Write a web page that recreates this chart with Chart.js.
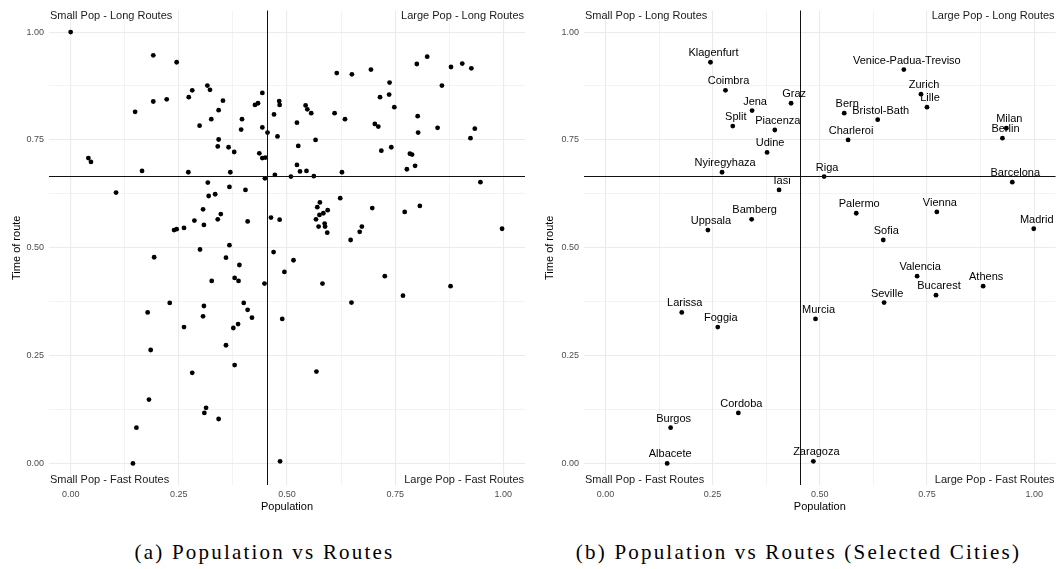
<!DOCTYPE html>
<html>
<head>
<meta charset="utf-8">
<script src="https://cdn.jsdelivr.net/npm/chart.js@4.4.1/dist/chart.umd.min.js"></script>
<style>
  html, body { margin: 0; padding: 0; background: #fff; }
  #wrap { position: relative; width: 1058px; height: 569px; overflow: hidden; }
  .panel { position: absolute; top: 0; width: 529px; height: 520px; }
  .cap { position: absolute; top: 542px; width: 529px; text-align: center;
         font-family: "Liberation Serif", "Times New Roman", serif; font-size: 21px;
         line-height: 20px; letter-spacing: 2.2px; color: #000; }
</style>
</head>
<body>
<div id="wrap">
  <div class="panel" style="left:0"><canvas id="allChart" width="529" height="520"></canvas></div>
  <div class="panel" style="left:529px"><canvas id="cityChart" width="529" height="520"></canvas></div>
  <div class="cap" style="left:0">(a) Population vs Routes</div>
  <div class="cap" style="left:534px">(b) Population vs Routes (Selected Cities)</div>
</div>
<script>
// --- data: all cities (normalised population / route time) ---
const allPop = [
  0.000, 0.191, 0.245, 0.316, 0.322, 0.281, 0.273, 0.222, 0.191, 0.352,
  0.342, 0.149, 0.443, 0.426, 0.433, 0.396, 0.325, 0.298, 0.394, 0.443,
  0.455, 0.342, 0.340, 0.365, 0.378, 0.041, 0.047, 0.436, 0.443, 0.450,
  0.165, 0.272, 0.369, 0.449, 0.105, 0.317, 0.367, 0.404, 0.334, 0.319,
  0.306, 0.347, 0.340, 0.286, 0.308, 0.409, 0.262, 0.245, 0.239, 0.367,
  0.299, 0.193, 0.359, 0.390, 0.326, 0.379, 0.388, 0.448, 0.229, 0.400,
  0.178, 0.308, 0.409, 0.306, 0.419, 0.262, 0.387, 0.376, 0.185, 0.359,
  0.379, 0.281, 0.181, 0.313, 0.309, 0.342, 0.152, 0.144, 0.482, 0.483,
  0.470, 0.478, 0.472, 0.509, 0.523, 0.526, 0.523, 0.530, 0.545, 0.562,
  0.543, 0.547, 0.556, 0.566, 0.615, 0.650, 0.610, 0.634, 0.627, 0.623,
  0.694, 0.737, 0.715, 0.736, 0.748, 0.703, 0.711, 0.718, 0.741, 0.697,
  0.800, 0.824, 0.858, 0.879, 0.905, 0.926, 0.802, 0.803, 0.848, 0.934,
  0.924, 0.784, 0.789, 0.796, 0.777, 0.947, 0.772, 0.807, 0.576, 0.570,
  0.594, 0.584, 0.575, 0.567, 0.587, 0.588, 0.573, 0.593, 0.647, 0.668,
  0.673, 0.463, 0.483, 0.997, 0.469, 0.515, 0.494, 0.582, 0.726, 0.768,
  0.878, 0.649, 0.489, 0.568, 0.484
];
const allTime = [
  1.000, 0.946, 0.930, 0.876, 0.866, 0.865, 0.849, 0.844, 0.839, 0.841,
  0.819, 0.815, 0.859, 0.831, 0.835, 0.798, 0.798, 0.783, 0.774, 0.779,
  0.767, 0.751, 0.735, 0.733, 0.722, 0.708, 0.699, 0.719, 0.708, 0.709,
  0.678, 0.675, 0.675, 0.661, 0.628, 0.651, 0.641, 0.634, 0.624, 0.620,
  0.589, 0.578, 0.566, 0.563, 0.553, 0.561, 0.546, 0.543, 0.541, 0.506,
  0.496, 0.478, 0.477, 0.460, 0.423, 0.430, 0.423, 0.417, 0.372, 0.372,
  0.350, 0.365, 0.356, 0.341, 0.338, 0.316, 0.323, 0.314, 0.263, 0.274,
  0.228, 0.210, 0.148, 0.129, 0.117, 0.103, 0.083, 0.000, 0.840, 0.831,
  0.809, 0.758, 0.669, 0.665, 0.790, 0.736, 0.692, 0.677, 0.678, 0.666,
  0.830, 0.821, 0.812, 0.750, 0.905, 0.902, 0.812, 0.798, 0.675, 0.615,
  0.913, 0.883, 0.849, 0.855, 0.826, 0.787, 0.781, 0.725, 0.733, 0.592,
  0.926, 0.943, 0.876, 0.919, 0.927, 0.916, 0.805, 0.767, 0.778, 0.776,
  0.754, 0.718, 0.716, 0.690, 0.682, 0.652, 0.583, 0.597, 0.605, 0.594,
  0.587, 0.580, 0.576, 0.566, 0.556, 0.549, 0.549, 0.535, 0.518, 0.537,
  0.549, 0.570, 0.565, 0.544, 0.490, 0.471, 0.444, 0.417, 0.434, 0.389,
  0.411, 0.373, 0.335, 0.213, 0.005
];

// --- data: selected cities ---
const cities = [
  'Klagenfurt', 'Coimbra', 'Jena', 'Graz', 'Split', 'Piacenza', 'Udine',
  'Nyiregyhaza', 'Iasi', 'Bamberg', 'Uppsala', 'Venice-Padua-Treviso',
  'Zurich', 'Lille', 'Bern', 'Bristol-Bath', 'Charleroi', 'Milan', 'Berlin',
  'Riga', 'Barcelona', 'Palermo', 'Vienna', 'Madrid', 'Sofia', 'Larissa',
  'Foggia', 'Cordoba', 'Burgos', 'Albacete', 'Valencia', 'Bucarest',
  'Athens', 'Seville', 'Murcia', 'Zaragoza'
];
const cityPop = [
  0.245, 0.280, 0.342, 0.433, 0.297, 0.395, 0.377, 0.272, 0.405, 0.341,
  0.239, 0.696, 0.736, 0.750, 0.557, 0.635, 0.566, 0.935, 0.926, 0.510,
  0.949, 0.585, 0.773, 0.999, 0.648, 0.178, 0.262, 0.310, 0.152, 0.144,
  0.727, 0.771, 0.881, 0.650, 0.490, 0.485
];
const cityTime = [
  0.930, 0.865, 0.818, 0.835, 0.782, 0.773, 0.721, 0.675, 0.634, 0.566,
  0.541, 0.913, 0.856, 0.826, 0.812, 0.797, 0.750, 0.777, 0.754, 0.665,
  0.652, 0.580, 0.583, 0.544, 0.518, 0.350, 0.316, 0.117, 0.083, 0.000,
  0.434, 0.390, 0.411, 0.373, 0.335, 0.005
];

// reference lines (means) and axis ticks
const meanPop = 0.453;
const meanTime = 0.666;
const majorTicks = [0, 0.25, 0.5, 0.75, 1];
const quadrantLabels = [
  'Small Pop - Long Routes', 'Large Pop - Long Routes',
  'Small Pop - Fast Routes', 'Large Pop - Fast Routes'
];

Chart.defaults.font.family = '"Liberation Sans", Arial, sans-serif';

// major ticks plus the minor ones half way between
const gridTicks = [];
majorTicks.forEach((v, i) => {
  gridTicks.push(v);
  if (i < majorTicks.length - 1) gridTicks.push((v + majorTicks[i + 1]) / 2);
});
const isMajor = v => majorTicks.includes(v);

// mean lines + quadrant captions
const quadrants = {
  id: 'quadrants',
  afterDatasetsDraw(chart) {
    const { ctx, chartArea: a, scales: { x, y } } = chart;
    const px = Math.round(x.getPixelForValue(meanPop)) + 0.5;
    const py = Math.round(y.getPixelForValue(meanTime)) + 0.5;
    ctx.save();
    ctx.strokeStyle = '#111';
    ctx.lineWidth = 1;
    ctx.beginPath();
    ctx.moveTo(px, a.top); ctx.lineTo(px, a.bottom);
    ctx.moveTo(a.left, py); ctx.lineTo(a.right, py);
    ctx.stroke();

    ctx.fillStyle = '#1a1a1a';
    ctx.font = '11px "Liberation Sans", Arial, sans-serif';
    ctx.textBaseline = 'top';
    ctx.textAlign = 'left';  ctx.fillText(quadrantLabels[0], a.left + 1, a.top);
    ctx.textAlign = 'right'; ctx.fillText(quadrantLabels[1], a.right - 1, a.top);
    ctx.textBaseline = 'bottom';
    ctx.textAlign = 'left';  ctx.fillText(quadrantLabels[2], a.left + 1, a.bottom);
    ctx.textAlign = 'right'; ctx.fillText(quadrantLabels[3], a.right - 1, a.bottom);
    ctx.restore();
  }
};

// names above points (only when names are given)
const cityLabels = {
  id: 'cityLabels',
  afterDatasetsDraw(chart, args, opts) {
    if (!opts.names) return;
    const { ctx } = chart;
    ctx.save();
    ctx.fillStyle = '#000';
    ctx.font = '11px "Liberation Sans", Arial, sans-serif';
    ctx.textAlign = 'center';
    ctx.textBaseline = 'middle';
    chart.getDatasetMeta(0).data.forEach((pt, i) => {
      ctx.fillText(opts.names[i], pt.x + 3, pt.y - 9);
    });
    ctx.restore();
  }
};

function axis(title, extra) {
  return Object.assign({
    type: 'linear',
    min: -0.05,
    max: 1.05,
    afterBuildTicks: s => { s.ticks = gridTicks.map(v => ({ value: v })); },
    border: { display: false },
    grid: {
      drawTicks: false,
      color: '#ebebeb',
      lineWidth: c => (c.tick && isMajor(c.tick.value) ? 1.1 : 0.6)
    },
    ticks: {
      color: '#4d4d4d',
      font: { size: 9 },
      autoSkip: false,
      maxRotation: 0,
      callback: v => (isMajor(v) ? v.toFixed(2) : '')
    },
    title: { display: true, text: title, color: '#000', font: { size: 11 } }
  }, extra);
}

function makeChart(id, xs, ys, names, padLeft, yWidth, padRight) {
  const xAxis = axis('Population', { afterFit: s => { s.height = 35; } });
  xAxis.ticks.padding = 4;
  xAxis.title.padding = { top: 0, bottom: 6.4 };
  const yAxis = axis('Time of route', { afterFit: s => { s.width = yWidth; } });
  yAxis.ticks.padding = 5;
  yAxis.title.padding = { top: 10.4, bottom: 0 };

  return new Chart(document.getElementById(id), {
    type: 'scatter',
    data: {
      datasets: [{
        data: xs.map((x, i) => ({ x: x, y: ys[i] })),
        backgroundColor: '#000',
        borderWidth: 0,
        pointRadius: 2.4,
        pointHoverRadius: 2.4
      }]
    },
    options: {
      responsive: false,
      animation: false,
      layout: { padding: { left: padLeft, right: padRight, top: 10.5, bottom: 0 } },
      plugins: {
        legend: { display: false },
        tooltip: { enabled: false },
        cityLabels: { names: names }
      },
      scales: { x: xAxis, y: yAxis }
    },
    plugins: [quadrants, cityLabels]
  });
}

makeChart('allChart', allPop, allTime, null, 0, 49, 4);
makeChart('cityChart', cityPop, cityTime, cities, 4, 51, 0);
</script>
</body>
</html>
